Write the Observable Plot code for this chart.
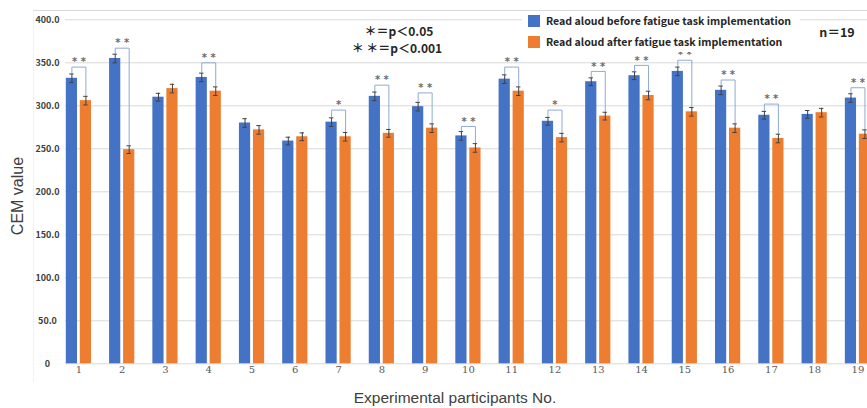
<!DOCTYPE html>
<html>
<head>
<meta charset="utf-8">
<script src="https://cdn.jsdelivr.net/npm/d3@7"></script>
<script src="https://cdn.jsdelivr.net/npm/@observablehq/plot@0.6"></script>
<style>
  html, body { margin: 0; padding: 0; background: #fff; overflow: hidden; }
  #wrap { position: relative; width: 867px; height: 408px; overflow: hidden; }
  #frame { position: absolute; left: 33px; top: 10px; width: 900px; height: 372px;
           border-top: 1px solid #d9d9d9; border-left: 1px solid #f2f2f2; box-sizing: border-box; }
  #chart { position: absolute; left: 0; top: 0; width: 880px; }
  #chart svg { max-width: none !important; width: 880px; height: 408px; }
  .lbl { position: absolute; white-space: nowrap; font-family: "Noto Sans CJK JP", "Noto Sans", sans-serif; }
  #legend { position: absolute; left: 522px; top: 12px; width: 278px; height: 40px; background: #fff; }
  .sw { position: absolute; width: 12px; height: 12px; left: 6px; }
  .lt { position: absolute; left: 24px; font-size: 10.6px; font-weight: bold; color: #262626; line-height: 12px;
        font-family: "Noto Sans CJK JP", "Noto Sans", sans-serif; white-space: nowrap; }
  #ytitle { position: absolute; left: 18px; top: 196px; transform: translate(-50%, -50%) rotate(-90deg);
            font-family: "Liberation Sans", Arial, sans-serif; font-size: 16px; color: #404040; white-space: nowrap; }
  #xtitle { position: absolute; left: 455px; top: 398px; transform: translate(-50%, -50%);
            font-family: "Liberation Sans", Arial, sans-serif; font-size: 15.5px; color: #404040; white-space: nowrap; }
</style>
</head>
<body>
<div id="wrap">
  <div id="frame"></div>
  <div id="chart"></div>
  <div class="lbl" style="left:399px;top:30px;transform:translate(-50%,-50%);font-size:12px;font-weight:bold;color:#262626;">＊＝p＜0.05</div>
  <div class="lbl" style="left:397px;top:47px;transform:translate(-50%,-50%);font-size:12px;font-weight:bold;color:#262626;">＊&#8201;＊＝p＜0.001</div>
  <div id="legend">
    <div class="sw" style="top:3px;background:#4472c4"></div>
    <div class="lt" style="top:3px">Read aloud before fatigue task implementation</div>
    <div class="sw" style="top:24px;background:#ed7d31"></div>
    <div class="lt" style="top:24px">Read aloud after fatigue task implementation</div>
  </div>
  <div class="lbl" style="left:837px;top:31px;transform:translate(-50%,-50%);font-size:12.5px;font-weight:bold;color:#262626;">n＝19</div>
  <div id="ytitle">CEM value</div>
  <div id="xtitle">Experimental participants No.</div>
</div>
<script>
// ---- data ----
const participants = [1, 2, 3, 4, 5, 6, 7, 8, 9, 10, 11, 12, 13, 14, 15, 16, 17, 18, 19];
const beforeValues = [332, 355, 310, 333, 280, 259, 281, 311, 299, 265, 331, 282, 328, 335, 340, 318, 289, 290, 309];
const afterValues  = [306, 249, 320, 317, 272, 264, 264, 268, 274, 251, 317, 263, 288, 312, 293, 274, 262, 292, 267];
const beforeErrors = [5, 5, 4.5, 5, 5, 4.5, 5, 5, 5, 5, 5, 4.5, 4.5, 4.5, 5, 5, 4.5, 4.5, 5];
const afterErrors  = [5, 4.5, 5, 5, 5, 4.5, 5, 4.5, 5, 5, 5, 5, 4.5, 5, 5, 5, 5, 5, 5];
const significance = ["* *", "* *", "", "* *", "", "", "*", "* *", "* *", "* *", "* *", "*", "* *", "* *", "* *", "* *", "* *", "", "* *"];
const bracketLevels = [345, 367, null, 350, null, null, 295, 324, 315, 276, 345, 295, 340, 347, 353, 330, 302, null, 321];
const yTicks = [0, 50, 100, 150, 200, 250, 300, 350, 400];
const seriesNames = ["before", "after"];
const seriesColors = ["#4472c4", "#ed7d31"];

// ---- geometry helpers (in participant units) ----
const step = 43.28;               // px per participant
const off = 7 / step;             // half distance between paired bars
const half = 5.6 / step;          // half bar width
const cap = 2.2 / step;           // half error cap width

const rows = participants.flatMap((p, i) => [
  {p, series: "before", value: beforeValues[i], err: beforeErrors[i], xc: p - off},
  {p, series: "after", value: afterValues[i], err: afterErrors[i], xc: p + off}
]);

const brackets = participants.flatMap((p, i) => significance[i] ? [
  {id: p, x: p - off, y: beforeValues[i] + beforeErrors[i] + 1},
  {id: p, x: p - off, y: bracketLevels[i]},
  {id: p, x: p + off, y: bracketLevels[i]},
  {id: p, x: p + off, y: afterValues[i] + afterErrors[i] + 1}
] : []);

const stars = participants.map((p, i) => ({p, text: significance[i], y: bracketLevels[i]})).filter(d => d.text);

const chart = Plot.plot({
  width: 880,
  height: 408,
  marginLeft: 65,
  marginRight: 0,
  marginTop: 19.3,
  marginBottom: 44.7,
  x: {type: "linear", domain: [0, 20], range: [78.4 - step, 78.4 + 19 * step], axis: null},
  y: {domain: [0, 400], axis: null},
  color: {domain: seriesNames, range: seriesColors},
  style: {background: "transparent", maxWidth: "none"},
  marks: [
    Plot.ruleY(yTicks, {stroke: "#d9d9d9", strokeWidth: 1}),
    Plot.rectY(rows, {x1: d => d.xc - half, x2: d => d.xc + half, y1: 0, y2: "value", fill: "series"}),
    Plot.ruleX(rows, {x: "xc", y1: d => d.value - d.err, y2: d => d.value + d.err, stroke: "#404040", strokeWidth: 1}),
    Plot.ruleY(rows, {y: d => d.value + d.err, x1: d => d.xc - cap, x2: d => d.xc + cap, stroke: "#404040", strokeWidth: 1}),
    Plot.ruleY(rows, {y: d => d.value - d.err, x1: d => d.xc - cap, x2: d => d.xc + cap, stroke: "#404040", strokeWidth: 1}),
    Plot.line(brackets, {x: "x", y: "y", z: "id", stroke: "#8faad6", strokeWidth: 1, curve: "linear"}),
    Plot.text(stars, {x: "p", y: "y", text: "text", dy: -5, fill: "#6b6b6b", fontSize: 10,
      fontFamily: "DejaVu Sans, sans-serif", fontWeight: "bold"}),
    Plot.text(yTicks, {y: d => d, text: d => d === 0 ? "0" : d.toFixed(1), frameAnchor: "left", dx: -18,
      textAnchor: "middle", fill: "#404040", fontSize: 9, fontWeight: "bold",
      fontFamily: "Noto Sans CJK JP, sans-serif"}),
    Plot.text(participants, {x: d => d, text: d => String(d), frameAnchor: "bottom", dy: 9,
      fill: "#595959", fontSize: 10, fontFamily: "DejaVu Serif, serif"})
  ]
});
document.getElementById("chart").appendChild(chart);
</script>
</body>
</html>
